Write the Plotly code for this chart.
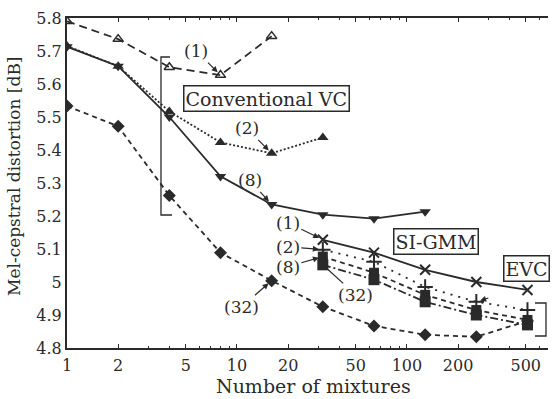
import math
import plotly.graph_objects as go

# x values (number of mixtures)
mix_all = [1, 2, 4, 8, 16, 32, 64, 128, 256, 512]
mix_conv1 = [1, 2, 4, 8, 16]
mix_conv2 = [1, 2, 4, 8, 16, 32]
mix_conv8 = [1, 2, 4, 8, 16, 32, 64, 128]
mix_evc = [32, 64, 128, 256, 512]

# Conventional VC
conv1 = [5.79, 5.736, 5.651, 5.627, 5.745]
conv2 = [5.715, 5.654, 5.517, 5.423, 5.39, 5.438]
conv8 = [5.713, 5.654, 5.50, 5.32, 5.235, 5.204, 5.192, 5.213]
conv32 = [5.533, 5.472, 5.262, 5.089, 5.004, 4.925, 4.867, 4.84, 4.834, 4.882]

# SI-GMM and EVC
si_gmm = [5.128, 5.089, 5.037, 5.0, 4.976]
evc_a = [5.098, 5.061, 4.985, 4.94, 4.915]
evc_b = [5.077, 5.028, 4.961, 4.915, 4.885]
evc_c = [5.052, 5.007, 4.94, 4.90, 4.87]

xtick_vals = [1, 2, 5, 10, 20, 50, 100, 200, 500]
ytick_vals = [4.8, 4.9, 5.0, 5.1, 5.2, 5.3, 5.4, 5.5, 5.6, 5.7, 5.8]
ytick_text = ["4.8", "4.9", "5", "5.1", "5.2", "5.3", "5.4", "5.5", "5.6", "5.7", "5.8"]

INK = "#2a2a2a"
FONT = "DejaVu Serif"

fig = go.Figure()

def add(x, y, dash, symbol, size=9, width=1.8, mline=0):
    fig.add_trace(go.Scatter(
        x=x, y=y, mode="lines+markers",
        line=dict(color=INK, width=width, dash=dash),
        marker=dict(symbol=symbol, size=size, color=INK,
                    line=dict(color=INK, width=mline)),
        showlegend=False))

add(mix_conv1, conv1, "8px,5px", "triangle-up-open", size=9, mline=1.5)
add(mix_conv2, conv2, "2px,2px", "triangle-up", size=10)
add(mix_conv8, conv8, "solid", "triangle-down", size=10)
add(mix_all, conv32, "5px,4px", "diamond", size=10)
add(mix_evc, si_gmm, "solid", "x-thin-open", size=10, mline=2)
add(mix_evc, evc_a, "2px,6px", "cross-thin-open", size=11, mline=2)
add(mix_evc, evc_b, "5px,4px", "square", size=10)
add(mix_evc, evc_c, "8px,3px,2px,3px", "square", size=11)

ann = []
def arrow_label(text, x, y, ax, ay, head=2):
    ann.append(dict(x=math.log10(x), y=y, ax=ax, ay=ay, text=text, showarrow=True,
                    arrowhead=head, arrowsize=1, arrowwidth=1.2, arrowcolor=INK,
                    standoff=4, font=dict(family=FONT, size=17, color=INK)))

arrow_label("(1)", mix_conv1[3], conv1[3], -24, -24)
arrow_label("(2)", mix_conv2[4], conv2[4], -25, -25)
arrow_label("(8)", mix_conv8[4], conv8[4], -22, -24)
arrow_label("(32)", mix_all[4], conv32[4], -30, 26)
arrow_label("(1)", mix_evc[0], si_gmm[0], -35, -17)
arrow_label("(2)", mix_evc[0], evc_a[0], -35, -3)
arrow_label("(8)", mix_evc[0], evc_b[0], -35, 10)
arrow_label("(32)", mix_evc[0], evc_c[0], 33, 30, head=0)
arrow_label(" ", mix_evc[3], evc_a[3], 16, -5)

def box(text, px, py):
    ann.append(dict(xref="paper", yref="paper", x=(px - 67) / 481, y=(348 - py) / 330,
                    xanchor="center", yanchor="middle",
                    text=text, showarrow=False, bordercolor=INK,
                    borderwidth=1.5, borderpad=1, bgcolor="white",
                    font=dict(family=FONT, size=19, color=INK)))

box("Conventional VC", 266, 98)
box("SI-GMM", 436, 241)
box("EVC", 526, 268)

ann.append(dict(xref="paper", yref="paper", x=(313 - 67) / 481, y=(348 - 386) / 330,
                xanchor="center", yanchor="middle",
                text="Number of mixtures", showarrow=False,
                font=dict(family=FONT, size=19, color=INK)))
ann.append(dict(xref="paper", yref="paper", x=(14 - 67) / 481, y=(348 - 176) / 330,
                xanchor="center", yanchor="middle",
                text="Mel-cepstral distortion [dB]", showarrow=False, textangle=-90,
                font=dict(family=FONT, size=17, color=INK)))

def px2paper(px, py):
    return (px - 67) / 481, (348 - py) / 330

def path(points):
    s = ""
    for i, (px, py) in enumerate(points):
        x, y = px2paper(px, py)
        s += ("M" if i == 0 else "L") + f"{x:.4f},{y:.4f} "
    return s

shapes = [
    dict(type="path", xref="paper", yref="paper",
         path=path([(170, 57), (161, 57), (161, 215), (172, 215)]),
         line=dict(color=INK, width=1.3)),
    dict(type="path", xref="paper", yref="paper",
         path=path([(535, 303), (546, 303), (546, 336), (535, 336)]),
         line=dict(color=INK, width=1.3)),
]

minor_vals = [m * d for d in (1, 10, 100) for m in range(2, 10)]

fig.update_layout(
    width=555, height=399,
    margin=dict(l=67, r=7, t=18, b=51),
    paper_bgcolor="white", plot_bgcolor="white",
    annotations=ann, shapes=shapes,
    font=dict(family=FONT, size=16, color=INK),
    xaxis=dict(type="log", range=[0, 2.83], tickvals=xtick_vals,
               ticktext=[str(v) for v in xtick_vals],
               showgrid=False, zeroline=False, showline=True, linecolor=INK,
               linewidth=2, mirror="ticks", ticks="inside", ticklen=4,
               tickcolor=INK, ticklabelstandoff=2,
               minor=dict(tickvals=minor_vals, ticks="inside", ticklen=2,
                          tickcolor=INK, showgrid=False),
               tickfont=dict(family=FONT, size=16, color=INK)),
    yaxis=dict(range=[4.8, 5.8], tickvals=ytick_vals, ticktext=ytick_text,
               showgrid=False, zeroline=False, showline=True, linecolor=INK,
               linewidth=2, ticks="", tickfont=dict(family=FONT, size=16, color=INK)),
)

fig.write_html("out.html")
